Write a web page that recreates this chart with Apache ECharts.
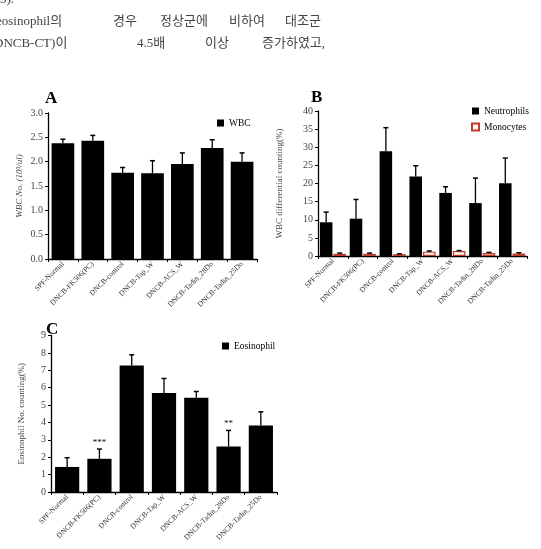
<!DOCTYPE html>
<html><head><meta charset="utf-8">
<script src="https://cdn.jsdelivr.net/npm/echarts@6/dist/echarts.min.js"></script>
<style>html,body{margin:0;padding:0;background:#fff}#c{width:541px;height:549px}</style>
</head><body><div id="c"></div>
<script>
const categories = ['SPF-Normal','DNCB-FK506(PC)','DNCB-control','DNCB-Tap_W','DNCB-ACS_W','DNCB-Tadin_28Do','DNCB-Tadin_25Do'];
const wbc = [2.38, 2.43, 1.77, 1.76, 1.95, 2.28, 2.00];
const wbcErr = [0.08, 0.11, 0.11, 0.26, 0.23, 0.17, 0.18];
const neutrophils = [9.3, 10.3, 28.9, 21.9, 17.4, 14.6, 20.1];
const neutrophilsErr = [2.8, 5.3, 6.5, 3.0, 1.7, 6.9, 6.9];
const monocytes = [0.6, 0.6, 0.5, 1.2, 1.4, 0.8, 0.7];
const monocytesErr = [0.2, 0.2, 0.1, 0.2, 0.1, 0.2, 0.2];
const eosinophil = [1.44, 1.91, 7.28, 5.69, 5.42, 2.62, 3.83];
const eosinophilErr = [0.53, 0.56, 0.61, 0.84, 0.36, 0.92, 0.78];
const eosinophilSig = ['', '***', '', '', '', '**', ''];
const yTicksA = {min: 0, max: 3, interval: 0.5};
const yTicksB = {min: 0, max: 40, interval: 5};
const yTicksC = {min: 0, max: 9, interval: 1};

const SERIF = "'Liberation Serif','Times New Roman',serif";
const KR = "'Liberation Serif','Noto Sans CJK KR',serif";

function xAxisCfg(idx){
  return {gridIndex: idx, type:'category', data: categories,
    axisLine:{lineStyle:{color:'#000', width:1.3}},
    axisTick:{show:true, length:3, lineStyle:{color:'#000'}},
    axisLabel:{rotate:45, interval:0, fontSize:7.5, fontFamily:SERIF, color:'#333', margin:4}};
}
function yAxisCfg(idx, t, name, gap, italic, fmt){
  return {gridIndex: idx, type:'value', min:t.min, max:t.max, interval:t.interval,
    name: name, nameLocation:'middle', nameGap: gap, nameRotate: 90,
    nameTextStyle:{fontFamily:SERIF, fontSize:9, color:'#444', fontStyle: italic ? 'italic':'normal'},
    splitLine:{show:false},
    axisLine:{show:true, lineStyle:{color:'#000', width:1.3}},
    axisTick:{show:true, length:3, lineStyle:{color:'#000'}},
    axisLabel:{fontSize:10, fontFamily:SERIF, color:'#444', margin:5, formatter: fmt}};
}
function errSeries(idx, vals, errs, shiftSign, sig){
  return {type:'custom', xAxisIndex:idx, yAxisIndex:idx, z:10, silent:true,
    data: vals.map((v,i)=>[i, v, errs[i]]),
    renderItem: function(params, api){
      const i = api.value(0), v = api.value(1), e = api.value(2);
      const cw = api.size([1,0])[0];
      const shift = shiftSign * cw * 0.42 * 0.54;
      const base = api.coord([i, v]);
      const top = api.coord([i, v+e]);
      const x = base[0] + shift;
      const children = [
        {type:'line', shape:{x1:x, y1:base[1], x2:x, y2:top[1]}, style:{stroke:'#000', lineWidth:1.3}},
        {type:'line', shape:{x1:x-2.5, y1:top[1], x2:x+2.5, y2:top[1]}, style:{stroke:'#000', lineWidth:1.5}}
      ];
      if (sig && sig[i]) {
        children.push({type:'text', style:{text:sig[i], x:x, y:top[1]-2, align:'center', verticalAlign:'bottom', font:'9px '+SERIF, fill:'#000'}});
      }
      return {type:'group', children: children};
    }};
}

const chart = echarts.init(document.getElementById('c'), null, {renderer:'canvas'});
chart.setOption({
  animation:false,
  backgroundColor:'#fff',
  grid:[
    {left:48, top:113, width:209, height:146},
    {left:318, top:111, width:209, height:145},
    {left:51, top:335.5, width:226, height:156.5}
  ],
  xAxis:[xAxisCfg(0), xAxisCfg(1), xAxisCfg(2)],
  yAxis:[
    yAxisCfg(0, yTicksA, 'WBC No. (10³/ul)', 24, true, v=>v.toFixed(1)),
    yAxisCfg(1, yTicksB, 'WBC differential counting(%)', 34, false),
    yAxisCfg(2, yTicksC, 'Eosinophil No. counting(%)', 25, false)
  ],
  legend:[
    {data:['WBC'], icon:'rect', left:212, top:113, itemWidth:7, itemHeight:7, textStyle:{fontFamily:SERIF, fontSize:9.5, color:'#000'}},
    {data:['Neutrophils','Monocytes'], icon:'rect', orient:'vertical', left:466, top:101, itemGap:6, itemWidth:7, itemHeight:7, textStyle:{fontFamily:SERIF, fontSize:9.5, color:'#000'}},
    {data:['Eosinophil'], icon:'rect', left:217, top:336, itemWidth:7, itemHeight:7, textStyle:{fontFamily:SERIF, fontSize:9.5, color:'#000'}}
  ],
  series:[
    {name:'WBC', type:'bar', xAxisIndex:0, yAxisIndex:0, data:wbc, barWidth:'76%', itemStyle:{color:'#000'}},
    errSeries(0, wbc, wbcErr, 0),
    {name:'Neutrophils', type:'bar', xAxisIndex:1, yAxisIndex:1, data:neutrophils, barWidth:'42%', barGap:'8%', itemStyle:{color:'#000'}},
    {name:'Monocytes', type:'bar', xAxisIndex:1, yAxisIndex:1, data:monocytes, barWidth:'42%', barGap:'8%', itemStyle:{color:'#fff', borderColor:'#c0392b', borderWidth:1.2}},
    errSeries(1, neutrophils, neutrophilsErr, -1),
    errSeries(1, monocytes, monocytesErr, 1),
    {name:'Eosinophil', type:'bar', xAxisIndex:2, yAxisIndex:2, data:eosinophil, barWidth:'75%', itemStyle:{color:'#000'}},
    errSeries(2, eosinophil, eosinophilErr, 0, eosinophilSig)
  ],
  graphic:[
    {type:'text', left:45, top:90, style:{text:'A', font:'bold 17px '+SERIF, fill:'#000'}},
    {type:'text', left:311, top:89, style:{text:'B', font:'bold 17px '+SERIF, fill:'#000'}},
    {type:'text', left:46, top:321, style:{text:'C', font:'bold 17px '+SERIF, fill:'#000'}},
    {type:'text', left:0, top:-7, style:{text:'3).', font:'13px '+KR, fill:'#444'}},
    {type:'text', left:-4, top:15, style:{text:'eosinophil의', font:'13px '+KR, fill:'#444'}},
    {type:'text', left:113, top:15, style:{text:'경우', font:'13px '+KR, fill:'#444'}},
    {type:'text', left:160, top:15, style:{text:'정상군에', font:'13px '+KR, fill:'#444'}},
    {type:'text', left:229, top:15, style:{text:'비하여', font:'13px '+KR, fill:'#444'}},
    {type:'text', left:285, top:15, style:{text:'대조군', font:'13px '+KR, fill:'#444'}},
    {type:'text', left:-6, top:37, style:{text:'DNCB-CT)이', font:'13px '+KR, fill:'#444'}},
    {type:'text', left:137, top:37, style:{text:'4.5배', font:'13px '+KR, fill:'#444'}},
    {type:'text', left:205, top:37, style:{text:'이상', font:'13px '+KR, fill:'#444'}},
    {type:'text', left:262, top:37, style:{text:'증가하였고,', font:'13px '+KR, fill:'#444'}}
  ]
});
</script></body></html>
